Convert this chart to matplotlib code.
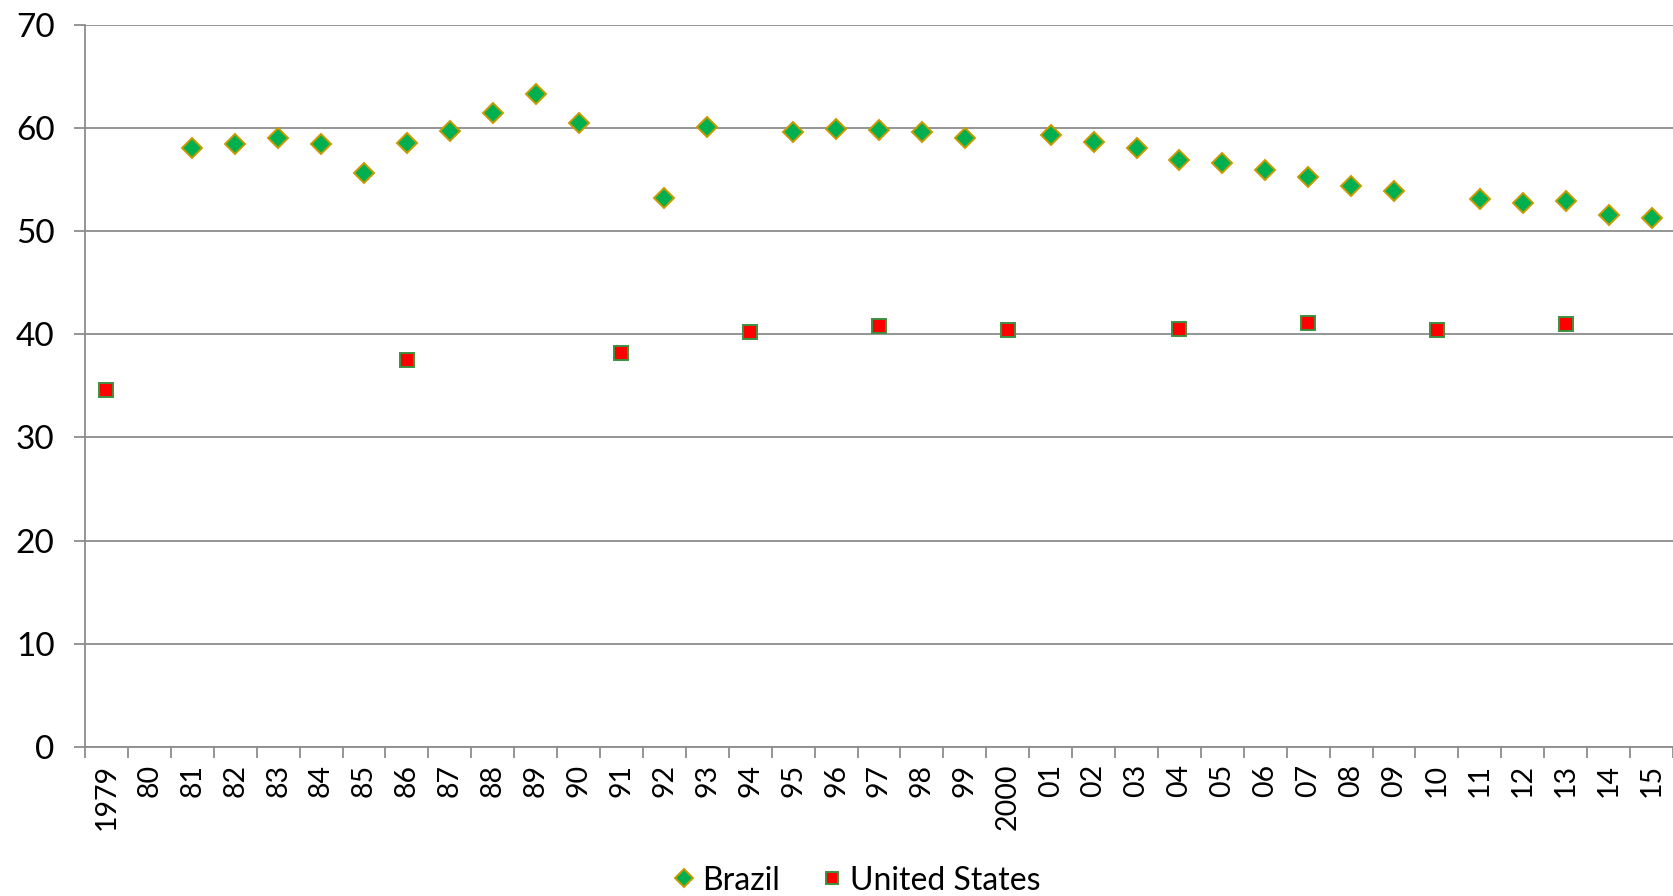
import matplotlib
matplotlib.use("Agg")
import matplotlib.pyplot as plt
import numpy as np

plt.rcParams['font.family'] = ['Lato', 'DejaVu Sans']

years = list(range(1979, 2016))
year_labels = ["1979", "80", "81", "82", "83", "84", "85", "86", "87", "88",
               "89", "90", "91", "92", "93", "94", "95", "96", "97", "98",
               "99", "2000", "01", "02", "03", "04", "05", "06", "07", "08",
               "09", "10", "11", "12", "13", "14", "15"]

# NaN where no survey value exists for that year
nan = np.nan
brazil = [nan, nan, 58.0, 58.4, 59.0, 58.4, 55.6, 58.5, 59.7, 61.4,
          63.3, 60.5, nan, 53.2, 60.1, nan, 59.6, 59.9, 59.8, 59.6,
          59.0, nan, 59.3, 58.6, 58.0, 56.9, 56.6, 55.9, 55.2, 54.4,
          53.9, nan, 53.1, 52.7, 52.9, 51.5, 51.3]
us_years = [1979, 1986, 1991, 1994, 1997, 2000, 2004, 2007, 2010, 2013]
us_values = [34.6, 37.5, 38.2, 40.2, 40.8, 40.4, 40.5, 41.1, 40.4, 41.0]

W, H = 1673, 896
fig = plt.figure(figsize=(W / 100, H / 100), dpi=100)
ax = fig.add_axes([85 / W, 1 - 747 / H, 1 - 85 / W, (747 - 24.5) / H])

x = np.arange(len(years))
us_x = [years.index(y) for y in us_years]

grid_c = "#8c8c8c"
ax.plot(x, brazil, linestyle="none", marker="D", markersize=10.5,
        markerfacecolor="#00b050", markeredgecolor="#c99a00",
        markeredgewidth=1.4, label="Brazil", zorder=3)
ax.plot(us_x, us_values, linestyle="none", marker="s", markersize=10,
        markerfacecolor="#ff0000", markeredgecolor="#3f8f3f",
        markeredgewidth=1.4, label="United States", zorder=3)

ax.set_xlim(-0.5, len(years) - 0.5)
ax.set_ylim(0, 70)
ax.set_yticks(range(0, 71, 10))
ax.yaxis.grid(True, color=grid_c, linewidth=1.3)
ax.set_axisbelow(True)

ax.set_xticks(x)
ax.set_xticklabels(year_labels, rotation=90, va="top", ha="center")
ax.set_xticks(np.arange(-0.5, len(years)), minor=True)
ax.tick_params(axis="x", which="major", length=0, pad=12, labelsize=20.5)
ax.tick_params(axis="x", which="minor", length=8, width=1.3, color=grid_c,
               direction="out")
ax.tick_params(axis="y", length=8, width=1.3, color=grid_c, labelsize=24,
               pad=14)

for side in ("top", "right"):
    ax.spines[side].set_visible(False)
for side in ("left", "bottom"):
    ax.spines[side].set_color(grid_c)
    ax.spines[side].set_linewidth(1.3)

ax.legend(loc="center", bbox_to_anchor=(0.485, -0.185), ncol=2, frameon=False,
          fontsize=23, handletextpad=0.1, columnspacing=1.2, markerscale=0.85,
          handlelength=0.9)

fig.savefig("out.png", dpi=100)
